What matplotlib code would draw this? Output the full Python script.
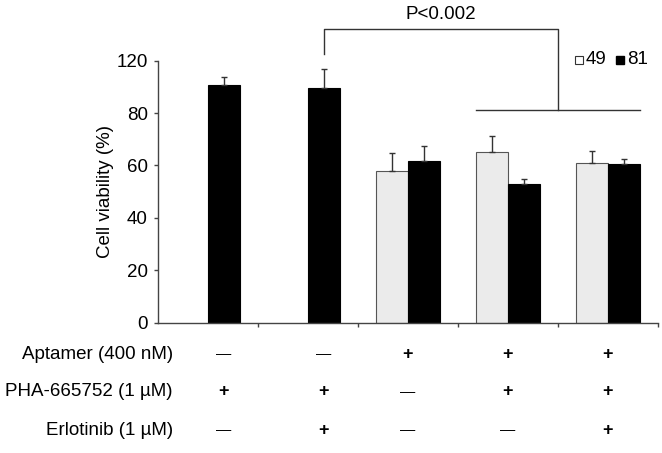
import numpy as np
import matplotlib
matplotlib.use('Agg')
import matplotlib.pyplot as plt
import matplotlib.transforms as mtransforms

plt.rcParams['font.family'] = ['Liberation Sans', 'DejaVu Sans']

# data
groups = np.arange(5)
v49 = [np.nan, np.nan, 58.0, 65.2, 60.9]
e49 = [np.nan, np.nan, 6.6, 6.2, 4.7]
v81 = [90.6, 89.7, 61.7, 53.0, 60.5]
e81 = [3.3, 7.1, 5.8, 1.8, 1.9]

ytick_vals = [0, 20, 40, 60, 80, 100]
ytick_labels = ['0', '20', '40', '60', '80', '120']

row_labels = ['Aptamer (400 nM)', 'PHA-665752 (1 \u00b5M)', 'Erlotinib (1 \u00b5M)']
aptamer = ['-', '-', '+', '+', '+']
pha = ['+', '+', '-', '+', '+']
erlotinib = ['-', '+', '-', '-', '+']

fs = 13.5
w = 0.32
edge = '#444444'

fig = plt.figure(figsize=(6.62, 4.53), dpi=100)
ax = fig.add_axes([157.7 / 662, 1 - 322.7 / 453, (658 - 157.7) / 662, 262 / 453])

ax.bar(groups - w / 2, v49, w, color='#ebebeb', edgecolor='#555555', linewidth=0.8,
       yerr=[np.zeros(5), e49], error_kw=dict(ecolor='#333333', elinewidth=1, capsize=2.5, capthick=1))
ax.bar(groups + w / 2, v81, w, color='black', edgecolor='black', linewidth=0.8,
       yerr=[np.zeros(5), e81], error_kw=dict(ecolor='#333333', elinewidth=1, capsize=2.5, capthick=1))

ax.set_xlim(-0.5, 4.5)
ax.set_ylim(0, 100)
ax.spines['top'].set_visible(False)
ax.spines['right'].set_visible(False)
for s in ['left', 'bottom']:
    ax.spines[s].set_color(edge)
    ax.spines[s].set_linewidth(1)
ax.set_xticks(groups + 0.5)
ax.set_xticklabels([])
ax.set_yticks(ytick_vals)
ax.set_yticklabels(ytick_labels, fontsize=fs)
ax.tick_params(axis='both', direction='out', length=3, color=edge, width=1, pad=4)
ax.set_ylabel('Cell viability (%)', fontsize=fs, labelpad=2)

# significance bracket
lc = '#333333'
x_left = 1 + w / 2
x_mid = 3.5
ax.plot([x_left, x_left, x_mid, x_mid], [102.4, 112.1, 112.1, 81.2], color=lc, lw=1, clip_on=False)
ax.plot([3 - w, 4 + w], [81.2, 81.2], color=lc, lw=1, clip_on=False)
ax.text((x_left + x_mid) / 2, 117.5, 'P<0.002', ha='center', va='center', fontsize=fs)

# legend drawn by hand
ax.plot([3.71], [100.3], marker='s', ms=6, mfc='white', mec='#333333', mew=0.8, clip_on=False)
ax.text(3.775, 100.3, '49', ha='left', va='center', fontsize=fs)
ax.plot([4.125], [100.3], marker='s', ms=6, mfc='black', mec='black', clip_on=False)
ax.text(4.195, 100.3, '81', ha='left', va='center', fontsize=fs)

# treatment table under the axis
trans = mtransforms.blended_transform_factory(ax.transData, ax.transAxes)
col_x = np.where(np.isnan(v49), groups + w / 2, groups)
rows_y = [-0.1195, -0.2645, -0.41]
for lab, vals, yy in zip(row_labels, [aptamer, pha, erlotinib], rows_y):
    ax.text(-0.35, yy, lab, transform=trans, ha='right', va='center', fontsize=fs)
    for xx, v in zip(col_x, vals):
        if v == '+':
            ax.text(xx, yy, '+', transform=trans, ha='center', va='center', fontsize=13, fontweight='bold')
        else:
            ax.text(xx, yy, '\u2014', transform=trans, ha='center', va='center', fontsize=11)

fig.savefig('out.png', dpi=100)
